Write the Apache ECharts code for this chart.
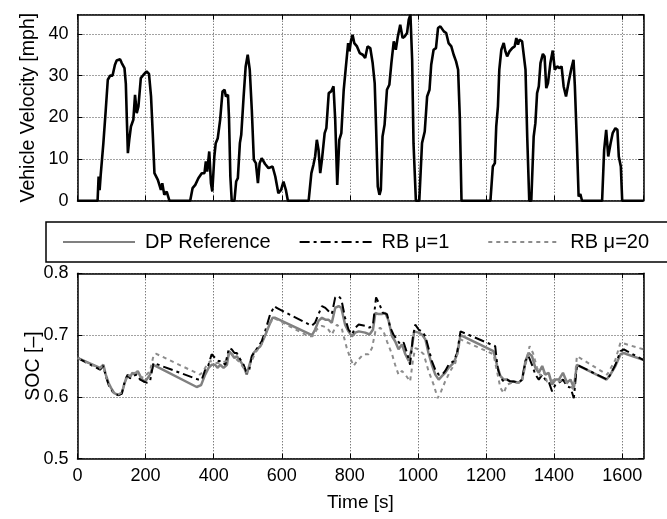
<!DOCTYPE html>
<html><head><meta charset="utf-8">
<script src="https://cdn.jsdelivr.net/npm/echarts@6/dist/echarts.min.js"></script>
<style>html,body{margin:0;padding:0;background:#fff}#c{width:667px;height:519px}</style>
</head><body><div id="c"></div>
<script>
// ---- Data ----
const velTime = [0,59,62,65,68,76,83,89,96,103,110,115,125,130,138,142,145,148,152,157,164,169,174,179,186,194,203,210,216,221,226,236,245,249,255,262,270,331,338,346,355,365,373,377,381,387,392,396,402,406,412,419,426,432,436,442,445,449,453,461,466,471,477,481,488,494,500,506,512,518,524,530,535,541,551,561,573,581,590,598,605,612,618,679,687,693,698,703,708,713,718,726,731,738,745,752,757,763,769,775,782,788,795,799,803,808,813,821,829,838,845,852,860,867,873,877,882,887,891,896,902,909,916,922,929,935,941,948,955,961,968,973,978,983,987,994,1004,1012,1020,1027,1034,1039,1046,1053,1059,1066,1076,1083,1090,1098,1105,1112,1118,1123,1128,1213,1220,1226,1230,1235,1239,1245,1252,1257,1262,1269,1277,1284,1289,1294,1298,1306,1311,1316,1321,1327,1333,1340,1345,1350,1355,1360,1367,1372,1377,1382,1389,1396,1402,1409,1416,1422,1428,1435,1443,1451,1457,1461,1467,1472,1477,1482,1541,1547,1553,1559,1566,1572,1580,1586,1590,1596,1600,1662];
const velMph = [0,0,5.8,2.5,6,13.8,21.8,29,30,30,32.6,33.6,33.9,33,31.8,28,19.4,11.4,14.6,17.8,19.4,25.4,21,22.6,29.4,30.2,31,30.4,25,16.2,6.6,5,2.6,4.2,1.4,2.2,0,0,3,3.8,5.4,6.6,6.6,9.4,7,11.8,4.2,2.2,10.6,13.8,15,19.4,26.2,26.6,25,25.4,20,5.8,0,0,4.6,5.4,13.8,15.8,25,32.2,35,31.4,21.8,9.8,9,4.2,9,10.2,8.8,7.8,8.2,5.8,1.8,2.6,4.6,2.6,0,0,6.6,8.6,10.6,14.6,12.2,6.6,9.8,16.2,17.4,25.8,26.2,27.4,19.4,3.8,14.6,16.2,26.6,31.8,37.8,35.8,38.2,39.8,37.8,37,35.4,35,34.2,37,36.6,33,28.2,17.8,3.4,1.4,2.6,15.4,18.2,26.6,27.8,33,38.2,36.2,39.4,42.2,39,39.4,40.2,43.4,44.6,33.8,13.8,0,0,13.8,16.6,25,26.6,32.6,36.2,36.6,41.4,41.8,40.6,40.2,37.8,37,35,33.4,31.4,20,0,0,8.2,9,17.8,22.6,31.4,36.2,37.8,35.8,34.6,35.8,36.6,37,39,37.4,38.6,38.2,37.8,31.4,15.4,0,0,15.4,18.6,25.8,27.4,33,35.2,34.6,27,28.2,33,36,31.4,32.2,31.8,32.2,27.4,25,28.6,31.8,33.8,27.4,13.8,1,1.6,0,0,12.2,17,10.6,13.8,16.2,17.4,17,10.6,8.2,0,0];

const dpTime = [0,66,76,83,91,98,108,120,130,140,148,154,161,169,177,184,194,203,213,223,228,350,363,375,385,394,404,412,419,429,439,445,453,461,468,478,488,497,502,510,517,527,537,546,556,566,573,581,684,690,698,708,718,728,737,747,757,767,775,786,796,806,816,826,845,858,868,875,884,894,904,914,924,933,943,953,963,973,982,989,1002,1012,1022,1031,1041,1051,1061,1071,1080,1090,1105,1115,1125,1222,1232,1242,1252,1262,1271,1281,1296,1306,1316,1325,1335,1345,1355,1365,1374,1384,1394,1404,1414,1426,1438,1448,1458,1467,1554,1565,1580,1595,1605,1614,1662];
const dpSoc = [0.663,0.647,0.652,0.636,0.623,0.615,0.606,0.603,0.606,0.625,0.636,0.631,0.639,0.636,0.642,0.634,0.625,0.628,0.636,0.652,0.654,0.616,0.619,0.636,0.647,0.652,0.652,0.647,0.652,0.647,0.652,0.674,0.669,0.663,0.666,0.658,0.650,0.636,0.639,0.661,0.671,0.677,0.682,0.693,0.706,0.720,0.728,0.728,0.701,0.701,0.709,0.723,0.728,0.725,0.725,0.720,0.744,0.747,0.744,0.717,0.706,0.698,0.704,0.706,0.704,0.701,0.709,0.736,0.734,0.734,0.736,0.723,0.698,0.690,0.677,0.685,0.669,0.658,0.679,0.706,0.704,0.701,0.693,0.671,0.652,0.636,0.628,0.634,0.639,0.647,0.655,0.669,0.700,0.674,0.652,0.634,0.628,0.628,0.625,0.625,0.623,0.628,0.658,0.671,0.666,0.647,0.639,0.650,0.636,0.639,0.620,0.628,0.628,0.639,0.623,0.628,0.615,0.652,0.628,0.636,0.650,0.669,0.671,0.669,0.660];

const rb1Time = [0,66,76,83,91,98,108,120,130,140,148,154,164,174,184,194,203,213,223,228,355,365,375,385,394,404,414,424,434,445,453,461,468,478,488,497,504,512,522,532,541,551,566,579,585,688,698,708,718,728,737,747,757,767,775,786,796,806,816,826,845,858,868,877,887,897,909,919,928,938,948,958,968,977,985,992,1002,1012,1022,1031,1041,1051,1061,1071,1080,1090,1105,1115,1125,1227,1234,1242,1252,1262,1271,1281,1296,1306,1316,1325,1335,1345,1355,1365,1374,1384,1394,1404,1414,1426,1438,1448,1458,1467,1556,1565,1580,1595,1605,1614,1662];
const rb1Soc = [0.663,0.644,0.650,0.634,0.620,0.612,0.605,0.603,0.605,0.628,0.636,0.630,0.634,0.636,0.628,0.625,0.623,0.625,0.655,0.658,0.628,0.628,0.644,0.652,0.669,0.663,0.658,0.658,0.652,0.679,0.677,0.671,0.671,0.661,0.652,0.639,0.642,0.666,0.674,0.682,0.690,0.706,0.734,0.747,0.744,0.715,0.720,0.734,0.747,0.744,0.739,0.734,0.761,0.763,0.758,0.728,0.709,0.701,0.712,0.717,0.715,0.712,0.717,0.761,0.750,0.736,0.734,0.712,0.701,0.693,0.685,0.688,0.671,0.652,0.696,0.717,0.709,0.706,0.698,0.679,0.658,0.644,0.636,0.636,0.642,0.652,0.658,0.671,0.706,0.682,0.647,0.631,0.625,0.628,0.625,0.625,0.623,0.628,0.658,0.666,0.652,0.636,0.628,0.636,0.628,0.625,0.609,0.620,0.623,0.628,0.617,0.615,0.598,0.652,0.628,0.636,0.652,0.674,0.677,0.674,0.660];

const rb20Time = [0,66,76,83,91,98,108,120,130,140,148,154,164,174,184,194,203,213,223,230,360,370,380,390,404,419,439,448,463,478,497,507,522,541,561,576,586,679,690,703,718,733,747,762,777,791,801,811,821,840,855,865,875,889,899,909,924,933,943,953,963,977,985,992,1002,1017,1031,1046,1058,1068,1080,1095,1110,1125,1222,1232,1242,1252,1262,1276,1296,1306,1316,1328,1338,1350,1360,1369,1379,1389,1399,1414,1428,1443,1458,1467,1556,1565,1580,1595,1662];
const rb20Soc = [0.663,0.646,0.651,0.635,0.622,0.613,0.605,0.604,0.607,0.625,0.637,0.633,0.638,0.640,0.633,0.631,0.636,0.642,0.666,0.670,0.636,0.642,0.652,0.658,0.655,0.655,0.658,0.674,0.663,0.655,0.639,0.652,0.671,0.685,0.715,0.728,0.725,0.698,0.698,0.709,0.715,0.712,0.701,0.717,0.709,0.679,0.663,0.650,0.658,0.669,0.669,0.679,0.706,0.712,0.706,0.690,0.669,0.652,0.636,0.642,0.636,0.625,0.658,0.679,0.677,0.669,0.642,0.620,0.598,0.609,0.625,0.642,0.655,0.693,0.669,0.642,0.615,0.606,0.620,0.623,0.623,0.625,0.652,0.682,0.671,0.647,0.634,0.642,0.625,0.623,0.628,0.625,0.628,0.620,0.612,0.666,0.636,0.645,0.660,0.688,0.677];

const timeTicks = {min: 0, max: 1662, interval: 200};
const velTicks = {min: 0, max: 44.6, interval: 10};
const socTicks = {min: 0.5, max: 0.8, interval: 0.1};

const seriesNames = ['DP Reference', 'RB \u03bc=1', 'RB \u03bc=20'];
const velLabel = 'Vehicle Velocity [mph]';
const socLabel = 'SOC [\u2013]';
const timeLabel = 'Time [s]';

// ---- Chart ----
const FONT = '"Liberation Sans", Arial, Helvetica, sans-serif';
const zip = (a, b) => a.map((x, i) => [x, b[i]]);
const chart = echarts.init(document.getElementById('c'), null, {renderer: 'canvas'});

const dotted = {show: true, lineStyle: {color: '#444', width: 1, type: [1, 2]}};
const tickIn = {show: true, inside: true, length: 5, lineStyle: {color: '#000', width: 1}};
const axLine = {show: true, onZero: false, lineStyle: {color: '#000', width: 1.5}};
const lab = {color: '#000', fontSize: 18, fontFamily: FONT};

function xAx(grid, showLabels, pos) {
  return {
    type: 'value', gridIndex: grid, position: pos, min: timeTicks.min, max: timeTicks.max, interval: timeTicks.interval,
    axisLine: axLine, axisTick: tickIn,
    splitLine: pos === 'bottom' ? dotted : {show: false},
    axisLabel: Object.assign({show: showLabels, margin: 8, showMaxLabel: false, formatter: v => String(v)}, lab),
    name: showLabels ? timeLabel : '', nameLocation: 'middle', nameGap: 35, nameMoveOverlap: false,
    nameTextStyle: {color: '#000', fontSize: 19, fontFamily: FONT}
  };
}
function yAx(grid, t, pos, name, gap, decimals) {
  return {
    type: 'value', gridIndex: grid, position: pos, min: t.min, max: t.max, interval: t.interval,
    axisLine: axLine, axisTick: tickIn,
    splitLine: pos === 'left' ? dotted : {show: false},
    axisLabel: Object.assign({show: pos === 'left', margin: 9, showMaxLabel: decimals > 0,
      formatter: v => decimals ? v.toFixed(1) : String(Math.round(v))}, lab),
    name: pos === 'left' ? name : '', nameLocation: 'middle', nameGap: gap, nameRotate: 90, nameMoveOverlap: false,
    nameTextStyle: {color: '#000', fontSize: 19.5, fontFamily: FONT}
  };
}

chart.setOption({
  animation: false,
  backgroundColor: '#fff',
  textStyle: {fontFamily: FONT},
  grid: [
    {left: 77.5, right: 23.7, top: 14.7, height: 186},
    {left: 77.5, right: 23.7, top: 273.3, height: 185.4}
  ],
  xAxis: [xAx(0, false, 'bottom'), xAx(1, true, 'bottom'), xAx(0, false, 'top'), xAx(1, false, 'top')],
  yAxis: [yAx(0, velTicks, 'left', velLabel, 39, 0), yAx(1, socTicks, 'left', socLabel, 34, 1),
          yAx(0, velTicks, 'right', '', 0, 0), yAx(1, socTicks, 'right', '', 0, 1)],
  graphic: [{
    type: 'polyline', z: 0, silent: true,
    shape: {points: [[760, 222], [46, 222], [46, 262], [760, 262]]},
    style: {fill: null, stroke: '#000', lineWidth: 1.5}
  }],
  legend: {
    left: 46, top: 222, width: 640,
    data: [
      {name: seriesNames[0]},
      {name: seriesNames[1], textStyle: {padding: [0, 10, 0, 5]}},
      {name: seriesNames[2]}
    ],
    itemWidth: 72, itemHeight: 12, itemGap: 28,
    itemStyle: {opacity: 0},
    borderWidth: 0,
    padding: [9, 10, 9, 16],
    textStyle: {color: '#000', fontSize: 20, fontFamily: FONT, lineHeight: 22, padding: [0, 0, 0, 5]}
  },
  series: [
    {type: 'line', name: 'velocity', xAxisIndex: 0, yAxisIndex: 0, data: zip(velTime, velMph),
     showSymbol: false, symbol: 'none', lineStyle: {color: '#000', width: 2.6}, z: 3},
    {type: 'line', name: seriesNames[0], xAxisIndex: 1, yAxisIndex: 1, data: zip(dpTime, dpSoc),
     symbol: 'none', itemStyle: {color: '#808080'}, lineStyle: {color: '#808080', width: 2.5}, z: 3},
    {type: 'line', name: seriesNames[1], xAxisIndex: 1, yAxisIndex: 1, data: zip(rb1Time, rb1Soc),
     symbol: 'none', itemStyle: {color: '#000'}, lineStyle: {color: '#000', width: 2, type: [10, 4, 3, 4]}, z: 4},
    {type: 'line', name: seriesNames[2], xAxisIndex: 1, yAxisIndex: 1, data: zip(rb20Time, rb20Soc),
     symbol: 'none', itemStyle: {color: '#8c8c8c'}, lineStyle: {color: '#8c8c8c', width: 2, type: [4, 4]}, z: 5}
  ]
});
</script></body></html>
